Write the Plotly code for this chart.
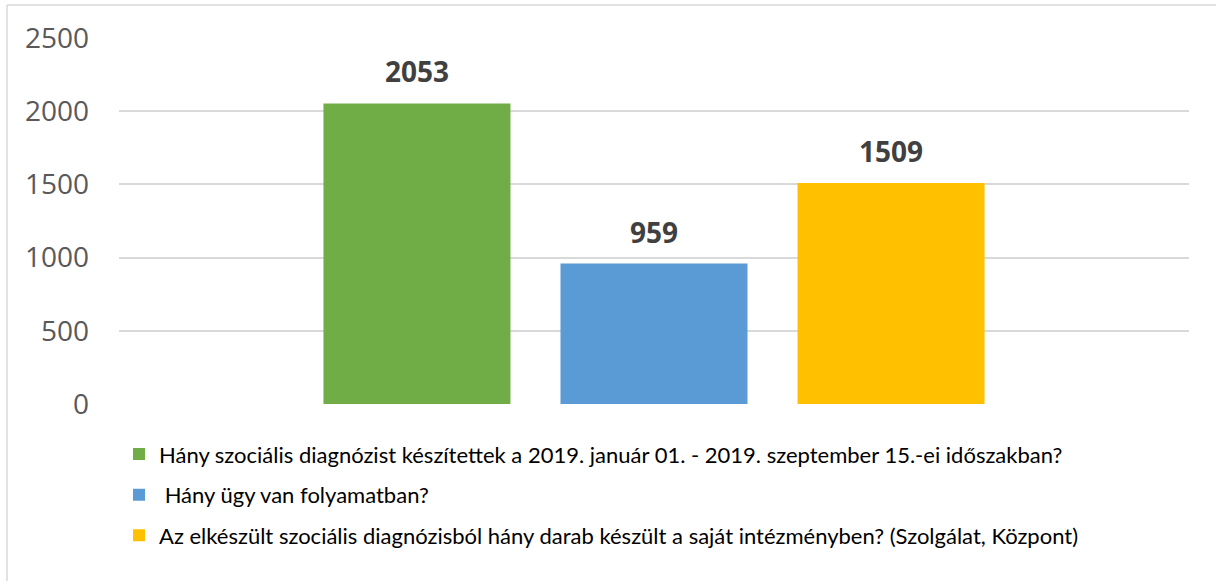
import plotly.graph_objects as go

series_names = [
    "Hány szociális diagnózist készítettek a 2019. január 01. - 2019. szeptember 15.-ei időszakban?",
    " Hány ügy van folyamatban?",
    "Az elkészült szociális diagnózisból hány darab készült a saját intézményben? (Szolgálat, Központ)",
]
series_keys = ["a", "b", "c"]
values = [2053, 959, 1509]
colors = ["#70AD47", "#5B9BD5", "#FFC000"]
y_ticks = [0, 500, 1000, 1500, 2000, 2500]

fig = go.Figure()
for i, (name, key, v, c) in enumerate(zip(series_names, series_keys, values, colors)):
    fig.add_trace(go.Bar(
        x=[key], y=[v], name=name, marker=dict(color=c, line=dict(width=0)),
        legendgroup=key, hoverinfo="skip",
    ))
    fig.add_annotation(
        x=key, y=v, text=f"<b>{v}</b>", showarrow=False,
        yanchor="middle", yshift=32,
        font=dict(family="Open Sans", size=28, color="#404040"),
    )

fig.update_layout(
    width=1216, height=581,
    margin=dict(l=119, r=27, t=38, b=177),
    paper_bgcolor="white", plot_bgcolor="white",
    barmode="overlay", bargap=0.211,
    showlegend=True,
    legend=dict(
        orientation="v", x=0.0, xanchor="left", y=-0.08, yanchor="top",
        font=dict(family="Lato", size=22, color="#000000"),
        itemwidth=30, tracegroupgap=9, traceorder="grouped",
        bgcolor="rgba(0,0,0,0)",
    ),
    xaxis=dict(
        type="category", categoryorder="array", categoryarray=series_keys,
        range=[-1.257, 3.257], showticklabels=False, showgrid=False,
        zeroline=False, showline=False, fixedrange=True,
    ),
    yaxis=dict(
        range=[0, 2500], tickvals=y_ticks, showgrid=True,
        gridcolor="#d9d9d9", gridwidth=1.5, zeroline=False, showline=False,
        tickfont=dict(family="Open Sans", size=28, color="#595959"),
        ticklabelstandoff=29,
    ),
    shapes=[
        dict(type="line", xref="paper", yref="paper",
             x0=(7 - 119) / 1070, x1=(1216 - 119) / 1070,
             y0=1 + (38 - 5) / 366, y1=1 + (38 - 5) / 366,
             line=dict(color="#d9d9d9", width=1.5)),
        dict(type="line", xref="paper", yref="paper",
             x0=(7 - 119) / 1070, x1=(7 - 119) / 1070,
             y0=1 + (38 - 5) / 366, y1=-(581 - 404) / 366 - 0.01,
             line=dict(color="#d9d9d9", width=1.5)),
    ],
)

fig.write_html("out.html", config={"displayModeBar": False},
               post_script="document.body.style.margin='0';")
